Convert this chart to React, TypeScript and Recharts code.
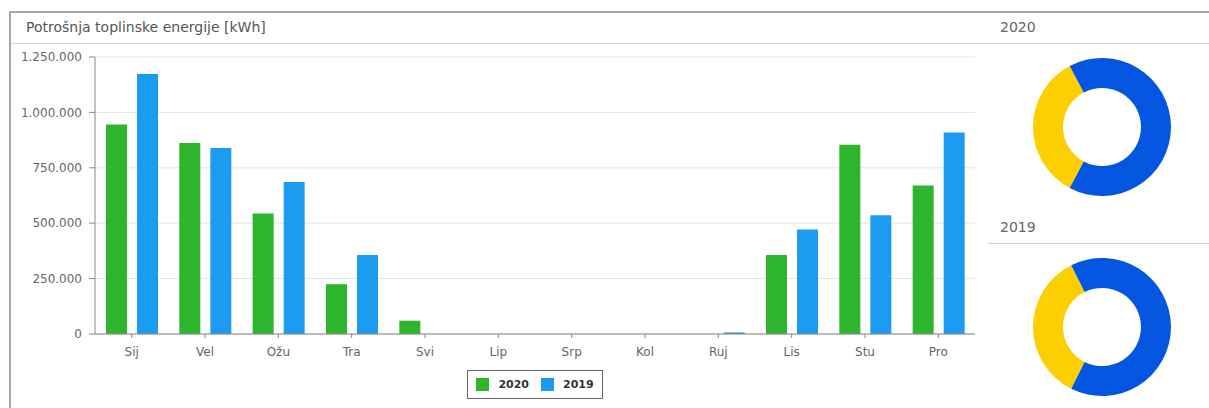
import {
  BarChart,
  Bar,
  XAxis,
  YAxis,
  CartesianGrid,
  Legend,
  PieChart,
  Pie,
  Cell,
} from "recharts"

const MONTHS = ["Sij", "Vel", "Ožu", "Tra", "Svi", "Lip", "Srp", "Kol", "Ruj", "Lis", "Stu", "Pro"]
const KWH_2020 = [945000, 862000, 544000, 225000, 60000, 0, 0, 0, 0, 357000, 854000, 670000]
const KWH_2019 = [1173000, 839000, 686000, 357000, 0, 0, 0, 0, 7000, 472000, 536000, 909000]
const Y_TICKS = [0, 250000, 500000, 750000, 1000000, 1250000]
const SERIES_KEYS = ["y2020", "y2019"]

// udio (%) za kružne grafove: [žuto, plavo]
const SHARE_2020 = [34.5, 65.5]
const SHARE_2019 = [35.3, 64.7]

const FONT = "'DejaVu Sans', Verdana, sans-serif"
const GREEN = "#2db52d"
const BLUE = "#1c9cf0"
const DONUT_COLORS = ["#fccf03", "#0455e0"]

const barData = MONTHS.map((m, i) => ({ month: m, y2020: KWH_2020[i], y2019: KWH_2019[i] }))

const fmt = (v: number) => String(v).replace(/\B(?=(\d{3})+(?!\d))/g, ".")

function LegendBox({ payload }: any) {
  const items = [...(payload || [])].sort(
    (a: any, b: any) => SERIES_KEYS.indexOf(a.dataKey) - SERIES_KEYS.indexOf(b.dataKey)
  )
  return (
    <div style={{ display: "flex", justifyContent: "center", paddingLeft: 95, paddingTop: 12 }}>
      <div
        style={{
          display: "flex",
          alignItems: "center",
          border: "1px solid #666",
          padding: "7px 8px 7px 8px",
          fontFamily: FONT,
          fontSize: 11,
          fontWeight: "bold",
          color: "#333",
        }}
      >
        {items.map((p: any, i: number) => (
          <span key={p.value} style={{ display: "flex", alignItems: "center", marginLeft: i ? 12 : 0 }}>
            <span style={{ width: 13, height: 13, background: p.color, marginRight: 9, display: "inline-block" }} />
            {p.value}
          </span>
        ))}
      </div>
    </div>
  )
}

function Donut({ shares, top }: { shares: number[]; top: number }) {
  const data = shares.map((v, i) => ({ name: String(i), value: v }))
  const start = 180 - (shares[0] / 100) * 180
  return (
    <div style={{ position: "absolute", left: 992, top }}>
      <PieChart width={220} height={160} margin={{ top: 0, right: 0, bottom: 0, left: 0 }}>
        <Pie
          data={data}
          dataKey="value"
          cx="50%"
          cy="50%"
          innerRadius={39}
          outerRadius={69}
          startAngle={start}
          endAngle={start + 360}
          stroke="none"
          isAnimationActive={false}
        >
          {data.map((d, i) => (
            <Cell key={d.name} fill={DONUT_COLORS[i]} />
          ))}
        </Pie>
      </PieChart>
    </div>
  )
}

export default function App() {
  return (
    <div
      style={{
        position: "absolute",
        left: 0,
        top: 0,
        width: 1209,
        height: 408,
        overflow: "hidden",
        background: "#fff",
        fontFamily: FONT,
      }}
    >
      <div style={{ position: "absolute", left: 9, top: 11, width: 1200, height: 2, background: "#a8a8a8" }} />
      <div style={{ position: "absolute", left: 9, top: 11, width: 2, height: 397, background: "#a8a8a8" }} />
      <div style={{ position: "absolute", left: 11, top: 43, width: 1198, height: 1, background: "#d6d6d6" }} />
      <div style={{ position: "absolute", left: 988, top: 243, width: 221, height: 1, background: "#d0d0d0" }} />

      <div style={{ position: "absolute", left: 26, top: 19, fontSize: 14, color: "#555" }}>
        Potrošnja toplinske energije [kWh]
      </div>
      <div style={{ position: "absolute", left: 1000, top: 19, fontSize: 14, color: "#666" }}>2020</div>
      <div style={{ position: "absolute", left: 1000, top: 219, fontSize: 14, color: "#666" }}>2019</div>

      <div style={{ position: "absolute", left: 0, top: 45 }}>
        <BarChart
          width={985}
          height={363}
          data={barData}
          margin={{ top: 12, right: 10, left: 0, bottom: 10 }}
          barCategoryGap="15%"
          barGap={10}
        >
          <CartesianGrid vertical={false} stroke="#e4e4e4" />
          <XAxis
            dataKey="month"
            height={24}
            tick={{ fontSize: 12, fill: "#666", fontFamily: FONT }}
            tickSize={4}
            tickMargin={9}
            axisLine={{ stroke: "#888" }}
            tickLine={{ stroke: "#888" }}
          />
          <YAxis
            width={95}
            domain={[0, 1250000]}
            ticks={Y_TICKS}
            tickFormatter={fmt}
            tick={{ fontSize: 12, fill: "#666", fontFamily: FONT }}
            tickSize={6}
            tickMargin={7}
            axisLine={{ stroke: "#888" }}
            tickLine={{ stroke: "#888" }}
          />
          <Legend verticalAlign="bottom" height={40} content={<LegendBox />} />
          <Bar dataKey="y2020" name="2020" fill={GREEN} isAnimationActive={false} />
          <Bar dataKey="y2019" name="2019" fill={BLUE} isAnimationActive={false} />
        </BarChart>
      </div>

      <Donut shares={SHARE_2020} top={47} />
      <Donut shares={SHARE_2019} top={247} />
    </div>
  )
}
